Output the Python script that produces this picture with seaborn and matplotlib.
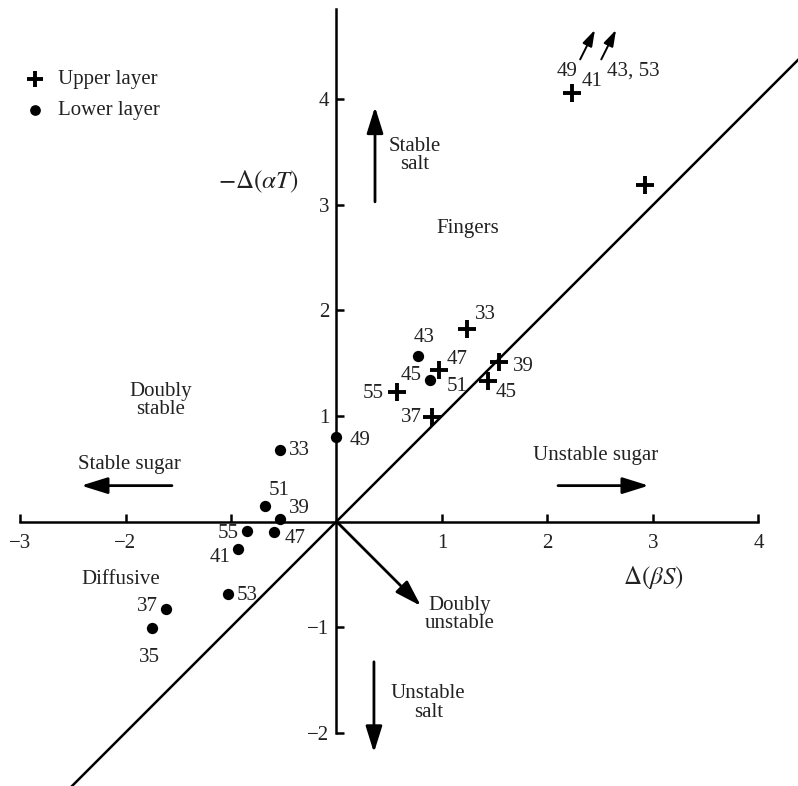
import matplotlib
matplotlib.use("Agg")
import matplotlib.pyplot as plt
import seaborn as sns
import pandas as pd

# ---- data ----
upper_x = [1.24, 0.97, 1.54, 1.44, 0.57, 0.91, 2.23, 2.92]
upper_y = [1.82, 1.44, 1.51, 1.33, 1.23, 0.99, 4.06, 3.19]

lower_x = [-0.54, -0.68, -0.54, -0.85, -0.59, -0.93, -1.03, -1.62, -1.75, 0.0, 0.77, 0.89]
lower_y = [0.68, 0.15, 0.02, -0.09, -0.10, -0.26, -0.69, -0.83, -1.01, 0.80, 1.57, 1.34]

# point labels (text, x, y)
label_text = ["33", "51", "39", "55", "47", "41", "53", "37", "35", "49", "43", "45",
              "33", "47", "39", "51", "45", "55", "37", "49", "41", "43, 53"]
label_x = [-0.35, -0.54, -0.35, -1.03, -0.39, -1.10, -0.85, -1.79, -1.77, 0.22, 0.83, 0.71,
           1.41, 1.14, 1.77, 1.14, 1.61, 0.35, 0.71, 2.19, 2.42, 2.81]
label_y = [0.67, 0.29, 0.12, -0.11, -0.16, -0.34, -0.70, -0.81, -1.29, 0.77, 1.74, 1.38,
           1.96, 1.54, 1.47, 1.28, 1.22, 1.21, 0.99, 4.27, 4.17, 4.27]

x_ticks = [-3, -2, -1, 1, 2, 3, 4]
x_tick_labels = ["\u22123", "\u22122", "", "1", "2", "3", "4"]
y_ticks = [-2, -1, 1, 2, 3, 4]
y_tick_labels = ["\u22122", "\u22121", "1", "2", "3", "4"]

sns.set_theme(style="white")
plt.rcParams["font.family"] = ["Liberation Serif", "DejaVu Serif"]
plt.rcParams["mathtext.fontset"] = "stix"

FS = 15
TC = "#222222"

fig = plt.figure(figsize=(7.98, 7.86), dpi=100)
ax = fig.add_axes([0, 0, 1, 1])
ax.set_xlim(-3.19, 4.375)
ax.set_ylim(-2.507, 4.943)

df_u = pd.DataFrame({"x": upper_x, "y": upper_y})
df_l = pd.DataFrame({"x": lower_x, "y": lower_y})
sns.scatterplot(data=df_u, x="x", y="y", ax=ax, marker="+", s=150, linewidth=2.8,
                color="black", label="Upper layer", zorder=5)
sns.scatterplot(data=df_l, x="x", y="y", ax=ax, marker="o", s=66, linewidth=0,
                color="black", label="Lower layer", zorder=5)

# diagonal line
sns.lineplot(x=[-2.7, 4.6], y=[-2.7, 4.6], ax=ax, color="black", lw=1.8)

# spines
for s in ["top", "right"]:
    ax.spines[s].set_visible(False)
ax.spines["left"].set_position(("data", 0))
ax.spines["bottom"].set_position(("data", 0))
ax.spines["left"].set_bounds(-2, 4.86)
ax.spines["bottom"].set_bounds(-3, 4)
for s in ["left", "bottom"]:
    ax.spines[s].set_linewidth(1.8)
    ax.spines[s].set_color("black")
ax.set_xticks(x_ticks)
ax.set_yticks(y_ticks)
ax.set_xticklabels(x_tick_labels)
ax.set_yticklabels(y_tick_labels)
ax.tick_params(axis="x", direction="in", length=6, width=1.8, pad=9, labelsize=FS,
               colors="black", labelcolor=TC, bottom=True)
ax.tick_params(axis="y", direction="in", length=6, width=1.8, pad=5, labelsize=FS,
               colors="black", labelcolor=TC, left=True)
ax.set_xlabel("")
ax.set_ylabel("")
ax.grid(False)

# point labels
for t, lx, ly in zip(label_text, label_x, label_y):
    ax.text(lx, ly, t, ha="center", va="center", fontsize=FS, color=TC)

txt = dict(ha="center", va="center", fontsize=FS, color=TC, linespacing=0.95)
ax.text(0.49, 3.47, "Stable\nsalt", **{**txt, "ha": "left"}, multialignment="center")
ax.text(1.24, 2.78, "Fingers", **txt)
ax.text(-1.67, 1.15, "Doubly\nstable", **txt)
ax.text(-1.96, 0.54, "Stable sugar", **txt)
ax.text(2.46, 0.63, "Unstable sugar", **txt)
ax.text(-2.05, -0.55, "Diffusive", **txt)
ax.text(1.17, -0.88, "Doubly\nunstable", **txt)
ax.text(0.87, -1.72, "Unstable\nsalt", **txt)
ax.text(-0.74, 3.22, r"$-\Delta(\alpha T)$", ha="center", va="center", fontsize=18, color=TC)
ax.text(3.0, -0.53, r"$\Delta(\beta S)$", ha="center", va="center", fontsize=18, color=TC)

ap = dict(arrowstyle="-|>,head_length=0.8,head_width=0.25", mutation_scale=20,
          lw=2, color="black", shrinkA=0, shrinkB=0)
ax.annotate("", xy=(0.365, 3.93), xytext=(0.365, 3.03), arrowprops=ap)
ax.annotate("", xy=(-2.42, 0.34), xytext=(-1.56, 0.34), arrowprops=ap)
ax.annotate("", xy=(2.96, 0.34), xytext=(2.10, 0.34), arrowprops=ap)
ax.annotate("", xy=(0.80, -0.80), xytext=(0.0, 0.0), arrowprops=ap)
ax.annotate("", xy=(0.355, -2.19), xytext=(0.355, -1.33), arrowprops=ap)
ap2 = dict(arrowstyle="-|>,head_length=0.7,head_width=0.22", mutation_scale=14,
           lw=1.4, color="black", shrinkA=0, shrinkB=0)
ax.annotate("", xy=(2.45, 4.66), xytext=(2.31, 4.38), arrowprops=ap2)
ax.annotate("", xy=(2.65, 4.66), xytext=(2.51, 4.38), arrowprops=ap2)

leg = ax.legend(loc="upper left", bbox_to_anchor=(0.0, 0.935), frameon=False,
                fontsize=FS, handletextpad=0.3, handlelength=1.6, labelspacing=0.55,
                markerscale=0.95)
for t in leg.get_texts():
    t.set_color(TC)

fig.savefig("out.png", dpi=100)
